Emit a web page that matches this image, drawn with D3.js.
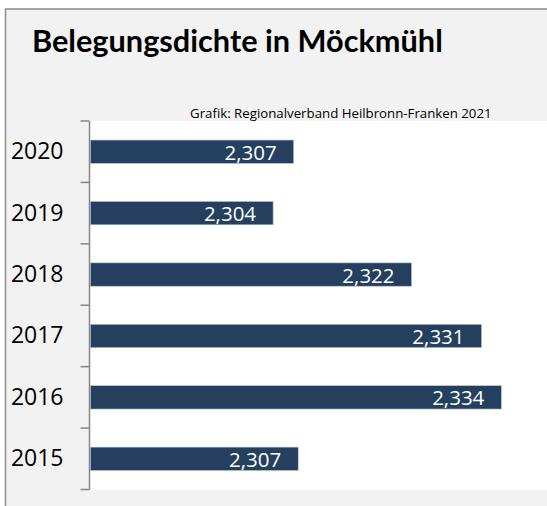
<!DOCTYPE html>
<html lang="de">
<head>
<meta charset="UTF-8">
<title>Belegungsdichte in Möckmühl</title>
<script src="https://d3js.org/d3.v7.min.js"></script>
<style>
    html, body { margin: 0; padding: 0; overflow: hidden; background: #fff; font-family: "Open Sans", sans-serif; }
    svg { display: block; overflow: hidden; }
</style>
</head>
<body>
<div id="container"></div>
<script>
    // data
    const years = ["2020", "2019", "2018", "2017", "2016", "2015"];
    const values = [2.3067, 2.3040, 2.3222, 2.3314, 2.3340, 2.3073];
    const xDomain = [2.28, 2.34];

    const title = "Belegungsdichte in Möckmühl";
    const source = "Grafik: Regionalverband Heilbronn-Franken 2021";

    const W = 547, H = 506;
    const plot = { left: 90, top: 121, right: 547, bottom: 489.5 };

    // german number format
    const de = d3.formatLocale({ decimal: ",", thousands: ".", grouping: [3], currency: ["", " €"] });
    const fmt = de.format(".3f");

    const svg = d3.select("#container").append("svg")
        .attr("width", W).attr("height", H);

    // chart background + border
    svg.append("rect")
        .attr("x", 5.5).attr("y", 9)
        .attr("width", W + 10).attr("height", H + 10)
        .attr("fill", "#f2f2f2")
        .attr("stroke", "#8c8c8c")
        .attr("stroke-width", 1.5);

    // plot area (runs off the right edge like the original)
    svg.append("rect")
        .attr("x", plot.left).attr("y", plot.top)
        .attr("width", W + 10 - plot.left)
        .attr("height", plot.bottom - plot.top + 0.5)
        .attr("fill", "#ffffff");

    // title
    const t = svg.append("text")
        .attr("x", 32).attr("y", 52)
        .attr("font-family", "Lato, sans-serif")
        .attr("font-size", 26).attr("font-weight", "bold")
        .attr("fill", "#000")
        .text(title);
    t.attr("font-size", 26 * 411 / t.node().getComputedTextLength());

    const s = svg.append("text")
        .attr("x", 190).attr("y", 118)
        .attr("font-size", 12).attr("fill", "#000")
        .text(source);
    s.attr("font-size", 12 * 302 / s.node().getComputedTextLength());

    // scales
    const x = d3.scaleLinear().domain(xDomain).range([plot.left + 0.5, plot.right]);
    const y = d3.scaleBand().domain(years)
        .range([plot.top, plot.bottom])
        .paddingInner(0.62).paddingOuter(0.31);

    const data = years.map((yr, i) => ({ year: yr, value: values[i] }));

    // bars
    svg.selectAll(".bar")
        .data(data).enter()
        .append("rect")
        .attr("class", "bar")
        .attr("x", x(xDomain[0]))
        .attr("y", d => y(d.year))
        .attr("width", d => x(d.value) - x(xDomain[0]))
        .attr("height", y.bandwidth())
        .attr("fill", "#253f5f")
        .attr("stroke", "#b9c4d2")
        .attr("stroke-width", 0.6);

    // value labels
    svg.selectAll(".val")
        .data(data).enter()
        .append("text")
        .attr("class", "val")
        .attr("x", d => x(d.value) - 17)
        .attr("y", d => y(d.year) + y.bandwidth() / 2 + 8)
        .attr("text-anchor", "end")
        .attr("font-size", 20.5)
        .attr("fill", "#ffffff")
        .text(d => fmt(d.value));

    // category axis
    const axis = svg.append("g")
        .attr("transform", `translate(${plot.left - 0.5},0)`)
        .call(d3.axisLeft(y).tickSize(0).tickPadding(26));
    axis.select(".domain").remove();
    axis.selectAll("text")
        .attr("font-family", "Open Sans, sans-serif")
        .attr("font-size", 23)
        .attr("fill", "#000");

    // axis line and ticks between categories
    const bounds = d3.range(years.length + 1).map(i => plot.top + i * y.step());
    axis.append("line")
        .attr("x1", 0).attr("x2", 0)
        .attr("y1", plot.top).attr("y2", bounds[bounds.length - 1])
        .attr("stroke", "#868686").attr("stroke-width", 1.5);
    axis.selectAll(".btick")
        .data(bounds).enter()
        .append("line")
        .attr("class", "btick")
        .attr("x1", -9).attr("x2", 0)
        .attr("y1", d => d).attr("y2", d => d)
        .attr("stroke", "#868686").attr("stroke-width", 1.5);
</script>
</body>
</html>
